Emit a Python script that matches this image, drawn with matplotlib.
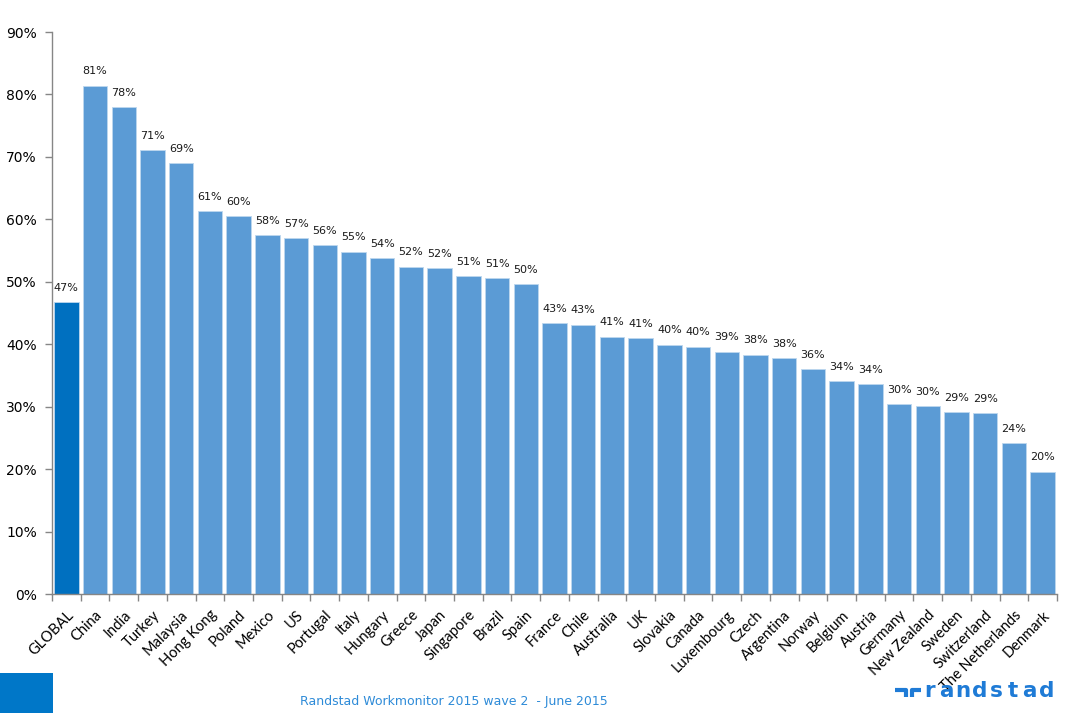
import numpy as np
import matplotlib
matplotlib.use("Agg")
import matplotlib.pyplot as plt
from matplotlib.patches import Rectangle
from matplotlib.lines import Line2D

# ── Data ──────────────────────────────────────────────────────────────────────
countries = [
    "GLOBAL", "China", "India", "Turkey", "Malaysia", "Hong Kong", "Poland",
    "Mexico", "US", "Portugal", "Italy", "Hungary", "Greece", "Japan",
    "Singapore", "Brazil", "Spain", "France", "Chile", "Australia", "UK",
    "Slovakia", "Canada", "Luxembourg", "Czech", "Argentina", "Norway",
    "Belgium", "Austria", "Germany", "New Zealand", "Sweden", "Switzerland",
    "The Netherlands", "Denmark",
]
values = [
    46.7, 81.4, 78.0, 71.1, 69.0, 61.3, 60.5,
    57.5, 57.0, 55.9, 54.8, 53.8, 52.4, 52.2,
    50.9, 50.6, 49.6, 43.4, 43.1, 41.2, 41.0,
    39.9, 39.6, 38.8, 38.3, 37.8, 36.0,
    34.1, 33.6, 30.4, 30.1, 29.1, 29.0,
    24.2, 19.6,
]

# ── Style ─────────────────────────────────────────────────────────────────────
BAR_CLR    = "#5B9BD5"
GLOBAL_CLR = "#0070C0"
AXIS_CLR   = "#868686"
BRAND_CLR  = "#2E8BD8"
LOGO_CLR   = "#1F7BD6"

W, H = 1076, 713
fig = plt.figure(figsize=(W / 100, H / 100), dpi=100, facecolor="white")
ax = fig.add_axes([52 / W, 1 - 594 / H, 1005 / W, 562 / H])

x = np.arange(len(countries))
colors = [GLOBAL_CLR] + [BAR_CLR] * (len(countries) - 1)
ax.bar(x, values, width=0.85, color=colors, edgecolor="#BDD7EE", linewidth=0.6)

for xi, v in zip(x, values):
    ax.text(xi, v + 1.5, f"{round(v):d}%", ha="center", va="bottom",
            fontsize=8, color="#1a1a1a", family="DejaVu Sans")

ax.set_xlim(-0.5, len(countries) - 0.5)
ax.set_ylim(0, 90)
ax.set_yticks(np.arange(0, 91, 10))
ax.set_yticklabels([f"{t}%" for t in range(0, 91, 10)], fontsize=10, family="DejaVu Sans")

ax.set_xticks(x)
ax.set_xticklabels(countries, rotation=45, ha="right", rotation_mode="anchor",
                   fontsize=10.5, family="Lato")
ax.set_xticks(np.arange(-0.5, len(countries), 1), minor=True)
ax.tick_params(axis="x", which="major", length=0, pad=10)
ax.tick_params(axis="x", which="minor", length=5, color=AXIS_CLR, width=1)
ax.tick_params(axis="y", length=5, color=AXIS_CLR, width=1, pad=6)

for side in ("top", "right"):
    ax.spines[side].set_visible(False)
for side in ("left", "bottom"):
    ax.spines[side].set_color(AXIS_CLR)
    ax.spines[side].set_linewidth(1)

# ── Footer ────────────────────────────────────────────────────────────────────
fig.patches.append(Rectangle((0, 0), 53 / W, 40 / H, transform=fig.transFigure,
                             facecolor="#0077C8", edgecolor="none"))
fig.text(300 / W, 1 - 701 / H, "Randstad Workmonitor 2015 wave 2  - June 2015",
         fontsize=9, color=BRAND_CLR, va="center", ha="left", family="DejaVu Sans")

# logo mark + wordmark (letters spread out like the brand font)
def px(xs, ys):
    return [xv / W for xv in xs], [1 - yv / H for yv in ys]

for xs, ys in [([895, 906, 906], [690, 690, 697]), ([912, 912, 921], [697, 690, 690])]:
    fx, fy = px(xs, ys)
    fig.lines.append(Line2D(fx, fy, transform=fig.transFigure, color=LOGO_CLR,
                            linewidth=3, solid_joinstyle="round", solid_capstyle="butt"))
for i, ch in enumerate("randstad"):
    fig.text((930 + i * 16.6) / W, 1 - 697 / H, ch, fontsize=15.5, color=LOGO_CLR,
             va="baseline", ha="center", family="DejaVu Sans", fontweight="bold")

fig.savefig("out.png", dpi=100, facecolor="white")
plt.close(fig)
